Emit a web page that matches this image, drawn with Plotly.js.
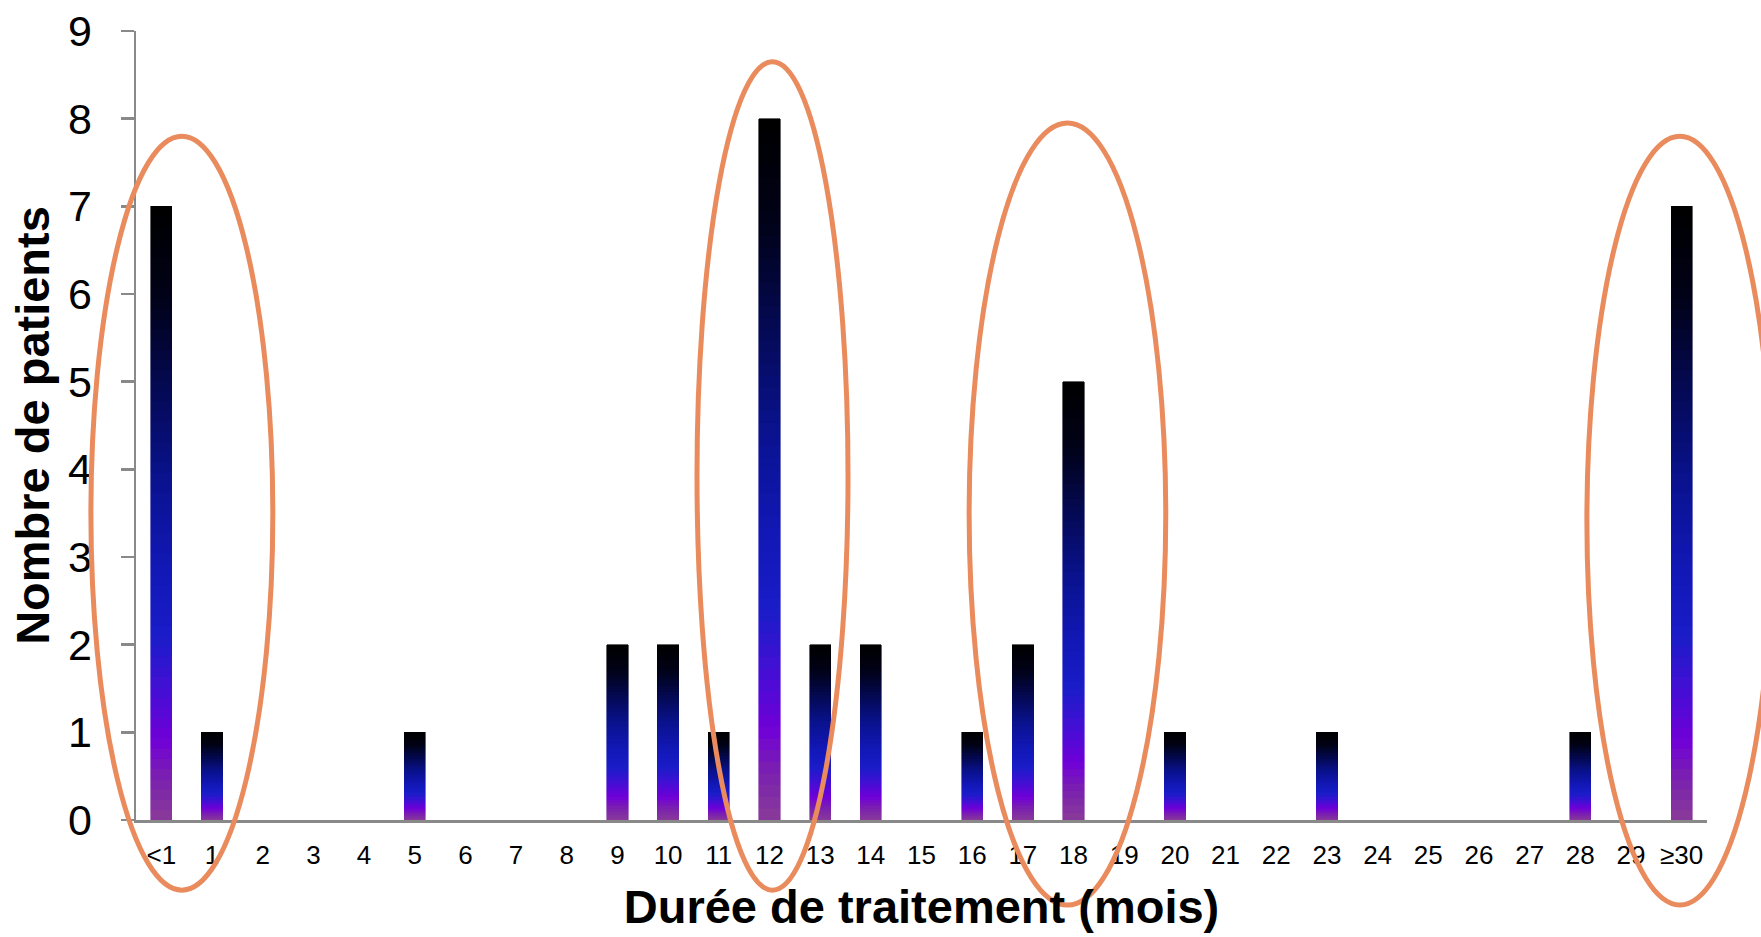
<!DOCTYPE html>
<html>
<head>
<meta charset="utf-8">
<script src="https://cdn.plot.ly/plotly-3.0.1.min.js"></script>
<style>html,body{margin:0;padding:0;background:#fff;}#chart{width:1761px;height:937px;}</style>
</head>
<body>
<div id="chart"></div>
<script>
// ---- data ----
const categories = ["<1","1","2","3","4","5","6","7","8","9","10","11","12","13","14","15","16","17","18","19","20","21","22","23","24","25","26","27","28","29","≥30"];
const patients   = [7,1,0,0,0,1,0,0,0,2,2,1,8,2,2,0,1,2,5,0,1,0,0,1,0,0,0,0,1,0,7];
const yTicks     = [0,1,2,3,4,5,6,7,8,9];
const xTitle = "Durée de traitement (mois)";
const yTitle = "Nombre de patients";

// highlighted groups (ellipses), in axis units: category-index span and value span
const ellipseX0 = [-1.39, 10.57, 15.94, 28.13];
const ellipseX1 = [ 2.20, 13.55, 19.82, 31.80];
const ellipseY0 = [-0.80, -0.80, -0.97, -0.97];
const ellipseY1 = [ 7.80,  8.65,  7.95,  7.80];

// ---- gradient of each bar (fraction from top -> colour) ----
const stops = [
  [0.00,[0,0,0]],
  [0.15,[1,1,24]],
  [0.30,[4,10,85]],
  [0.45,[10,18,144]],
  [0.60,[18,24,184]],
  [0.70,[26,28,200]],
  [0.78,[64,16,212]],
  [0.87,[112,0,216]],
  [0.93,[122,32,176]],
  [1.00,[138,58,152]]
];
function grad(f){
  for(let i=0;i<stops.length-1;i++){
    const a=stops[i],b=stops[i+1];
    if(f>=a[0]&&f<=b[0]){
      const t=(f-a[0])/(b[0]-a[0]);
      const c=a[1].map((v,k)=>Math.round(v+(b[1][k]-v)*t));
      return 'rgb('+c.join(',')+')';
    }
  }
  return 'rgb(0,0,0)';
}

const N = 60;
const traces = [];
for(let i=0;i<N;i++){
  const col = grad(1-(i+0.5)/N);
  traces.push({
    type:'bar',
    x:categories,
    y:patients.map(v=>v/N),
    width:0.42,
    marker:{color:col,line:{color:col,width:0.6}},
    hoverinfo:'skip',
    showlegend:false
  });
}

const nCat = categories.length;
const yMax = 9;
const shapes = ellipseX0.map((x0,i)=>({
  type:'circle',
  xref:'paper', yref:'paper',
  x0:(x0+0.5)/nCat, x1:(ellipseX1[i]+0.5)/nCat,
  y0:ellipseY0[i]/yMax, y1:ellipseY1[i]/yMax,
  line:{color:'#E98B5C', width:5},
  fillcolor:'rgba(0,0,0,0)',
  layer:'above'
}));

const FONT = '"Liberation Sans", Arial, sans-serif';
const layout = {
  width:1761, height:937,
  margin:{l:136, r:54, t:31, b:114, pad:0},
  paper_bgcolor:'#fff', plot_bgcolor:'#fff',
  barmode:'stack', bargap:0.58,
  font:{family:FONT, color:'#000'},
  xaxis:{
    type:'category',
    range:[-0.5, nCat-0.5],
    showgrid:false, zeroline:false,
    showline:true, linecolor:'#898989', linewidth:2.5,
    ticks:'', tickfont:{size:26, color:'#000'},
    ticklabelstandoff:10,
    automargin:'bottom',
    title:{text:xTitle, font:{size:47, color:'#000', family:FONT, weight:'bold'}, standoff:22}
  },
  yaxis:{
    range:[0, yMax],
    tickvals:yTicks,
    showgrid:false, zeroline:false,
    showline:true, linecolor:'#898989', linewidth:2.5,
    ticks:'outside', ticklen:13, tickwidth:2.5, tickcolor:'#898989',
    tickfont:{size:43, color:'#000'},
    ticklabelstandoff:20,
    automargin:'left',
    title:{text:yTitle, font:{size:47, color:'#000', family:FONT, weight:'bold'}, standoff:4}
  },
  shapes:shapes
};

Plotly.newPlot('chart', traces, layout, {staticPlot:true, displayModeBar:false});
</script>
</body>
</html>
